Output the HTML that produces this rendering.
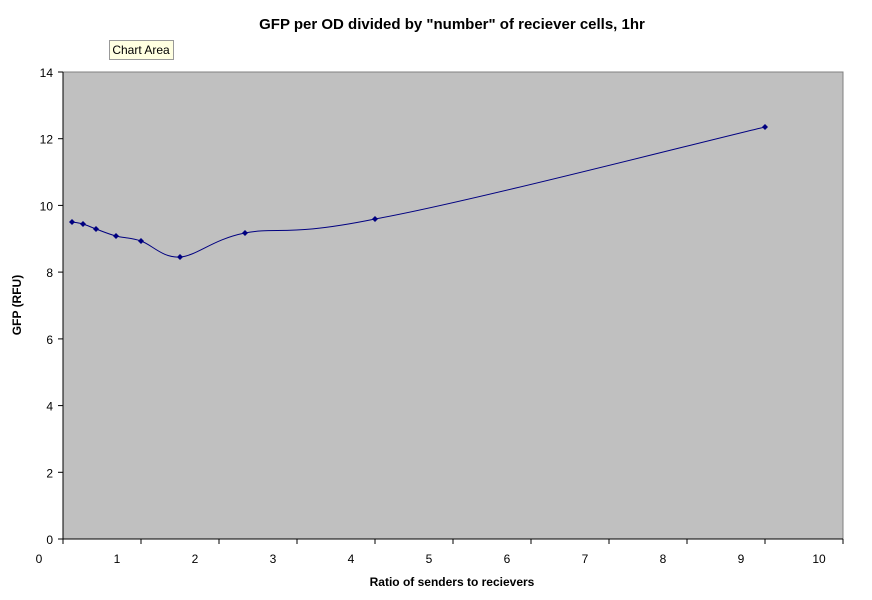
<!DOCTYPE html>
<html><head><meta charset="utf-8"><style>
body{margin:0;background:#fff;}
svg{display:block;font-family:"Liberation Sans",Arial,sans-serif;}
</style></head><body>
<svg width="872" height="600" viewBox="0 0 872 600" xmlns="http://www.w3.org/2000/svg">
<rect width="872" height="600" fill="#fff"/>
<text x="452" y="29" text-anchor="middle" font-size="15" font-weight="bold">GFP per OD divided by "number" of reciever cells, 1hr</text>
<rect x="109.5" y="40.5" width="64" height="19" fill="#ffffe1" stroke="#999"/>
<text x="141" y="54" text-anchor="middle" font-size="12">Chart Area</text>
<rect x="63" y="72" width="780" height="467" fill="#c0c0c0" stroke="#808080"/>
<line x1="63" y1="72" x2="63" y2="539" stroke="#000"/>
<line x1="63" y1="539" x2="843" y2="539" stroke="#000"/>
<g stroke="#000">
<line x1="58" y1="72" x2="63" y2="72"/><line x1="58" y1="138.7" x2="63" y2="138.7"/><line x1="58" y1="205.4" x2="63" y2="205.4"/><line x1="58" y1="272.1" x2="63" y2="272.1"/><line x1="58" y1="338.9" x2="63" y2="338.9"/><line x1="58" y1="405.6" x2="63" y2="405.6"/><line x1="58" y1="472.3" x2="63" y2="472.3"/><line x1="58" y1="539" x2="63" y2="539"/>
<line x1="63" y1="539" x2="63" y2="544"/><line x1="141" y1="539" x2="141" y2="544"/><line x1="219" y1="539" x2="219" y2="544"/><line x1="297" y1="539" x2="297" y2="544"/><line x1="375" y1="539" x2="375" y2="544"/><line x1="453" y1="539" x2="453" y2="544"/><line x1="531" y1="539" x2="531" y2="544"/><line x1="609" y1="539" x2="609" y2="544"/><line x1="687" y1="539" x2="687" y2="544"/><line x1="765" y1="539" x2="765" y2="544"/><line x1="843" y1="539" x2="843" y2="544"/>
</g>
<g font-size="12" text-anchor="end">
<text x="53" y="77">14</text><text x="53" y="143.7">12</text><text x="53" y="210.4">10</text><text x="53" y="277.1">8</text><text x="53" y="343.9">6</text><text x="53" y="410.6">4</text><text x="53" y="477.3">2</text><text x="53" y="544">0</text>
</g>
<g font-size="12" text-anchor="middle">
<text x="39" y="563">0</text><text x="117" y="563">1</text><text x="195" y="563">2</text><text x="273" y="563">3</text><text x="351" y="563">4</text><text x="429" y="563">5</text><text x="507" y="563">6</text><text x="585" y="563">7</text><text x="663" y="563">8</text><text x="741" y="563">9</text><text x="819" y="563">10</text>
</g>
<text x="452" y="586" text-anchor="middle" font-size="12" font-weight="bold">Ratio of senders to recievers</text>
<text transform="translate(21,305) rotate(-90)" text-anchor="middle" font-size="12" font-weight="bold">GFP (RFU)</text>
<path d="M72,222 C73.8,222.3 79,222.8 83,224 C87,225.2 90.5,227 96,229 C101.5,231 108.5,234 116,236 C123.5,238 130.3,237.5 141,241 C151.7,244.5 162.7,258.3 180,257 C197.3,255.7 212.5,239.3 245,233 C277.5,226.7 288.3,236.7 375,219 C461.7,203.7 700,142.3 765,127" fill="none" stroke="#000080" stroke-width="1"/>
<g fill="#000080">
<path d="M72,219 l3,3 l-3,3 l-3,-3z"/><path d="M83,221 l3,3 l-3,3 l-3,-3z"/><path d="M96,226 l3,3 l-3,3 l-3,-3z"/><path d="M116,233 l3,3 l-3,3 l-3,-3z"/><path d="M141,238 l3,3 l-3,3 l-3,-3z"/><path d="M180,254 l3,3 l-3,3 l-3,-3z"/><path d="M245,230 l3,3 l-3,3 l-3,-3z"/><path d="M375,216 l3,3 l-3,3 l-3,-3z"/><path d="M765,124 l3,3 l-3,3 l-3,-3z"/>
</g>
</svg>
</body></html>
